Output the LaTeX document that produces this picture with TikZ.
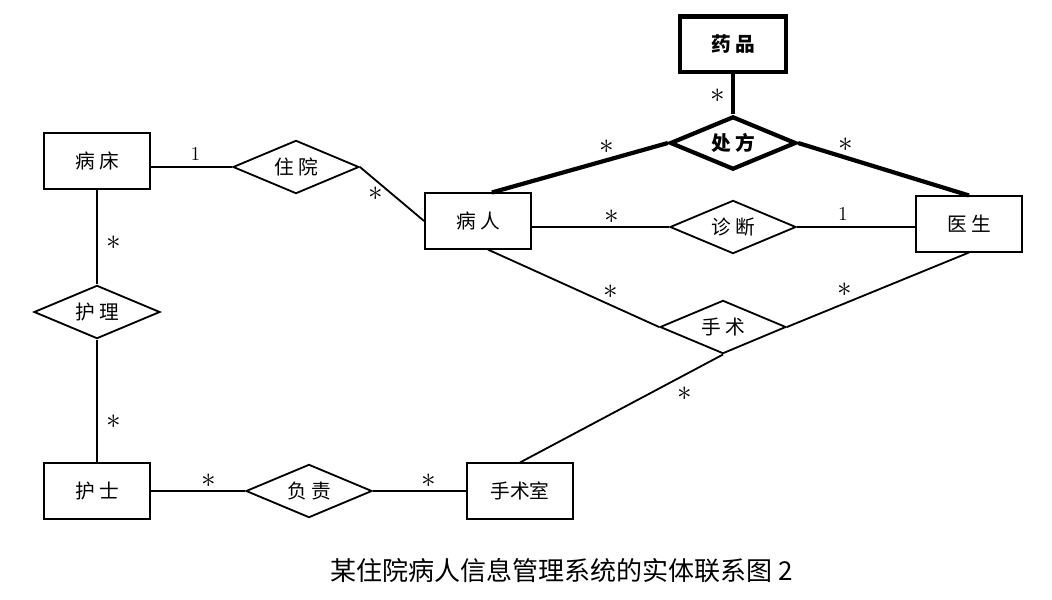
\documentclass[tikz,border=0pt]{standalone}
\usepackage{fontspec}
\newfontfamily\cjk{Noto Sans CJK SC}
\usetikzlibrary{positioning, shapes.geometric}

\begin{document}
\begin{tikzpicture}[
    x=0.025cm, y=-0.025cm,
    entity/.style={
        rectangle,
        draw=black,
        line width=1.3pt,
        minimum width=2.65cm,
        minimum height=1.38cm,
        inner sep=0pt,
        font=\cjk\fontsize{14}{16}\selectfont
    },
    relation/.style={
        diamond,
        aspect=2.4,
        draw=black,
        line width=1.3pt,
        minimum width=3.15cm,
        minimum height=1.33cm,
        inner sep=0pt,
        font=\cjk\fontsize{14}{16}\selectfont
    },
    thickbox/.style={line width=3pt, font=\cjk\bfseries\fontsize{14}{16}\selectfont},
    line/.style={line width=1.3pt},
    heavy/.style={line width=3pt},
    card/.style={font=\fontsize{14}{16}\selectfont, inner sep=2pt},
    many/.style={card, font=\fontsize{20}{22}\selectfont, inner sep=1pt}
]

\useasboundingbox (0, 0) rectangle (1052, 599);

\def\xl{97}

% Entities
\node[entity, thickbox] (yp) at (733, 44) {药 品};
\node[entity] (bc)  at (\xl, 161) {病 床};
\node[entity] (br)  at (478, 221) {病 人};
\node[entity] (ys)  at (969, 224) {医 生};
\node[entity] (hs)  at (\xl, 491) {护 士};
\node[entity] (ssj) at (520, 491) {手术室};

% Relationships
\node[relation, thickbox] (cf) at (733, 143) {处 方};
\node[relation] (zy) at (296, 167) {住 院};
\node[relation] (zd) at (733, 227) {诊 断};
\node[relation] (ss) at (723, 327) {手 术};
\node[relation] (hl) at (\xl, 312) {护 理};
\node[relation] (fz) at (309, 491) {负 责};

% Prescription (heavy lines)
\draw[heavy] (yp) -- node[many, left=3pt, pos=0.55] {$*$} (cf);
\draw[heavy] (br.64) -- node[many, above=2pt, pos=0.65] {$*$} (cf.west);
\draw[heavy] (cf.east) -- node[many, above=2pt, pos=0.28] {$*$} (ys.north);

% Other relationships
\draw[line] (bc.east |- zy.west) -- node[card, above=2pt, pos=0.55] {1} (zy.west);
\draw[line] (zy.east) -- node[many, below=3pt, pos=0.25] {$*$} (br.west);
\draw[line] (br.east |- zd.west) -- node[many, above=1pt, pos=0.58] {$*$} (zd.west);
\draw[line] (zd.east) -- node[card, above=2pt, pos=0.39] {1} (ys.west |- zd.east);
\draw[line] (br.289) -- node[many, above=3pt, pos=0.72] {$*$} (ss.west);
\draw[line] (ss.east) -- node[many, above=3pt, pos=0.32] {$*$} (ys.south);
\draw[line] (ss.south) -- node[many, below right=3pt, pos=0.25] {$*$} (ssj.north);
\draw[line] (bc) -- node[many, right=5pt, pos=0.56] {$*$} (hl);
\draw[line] (hl) -- node[many, right=5pt, pos=0.67] {$*$} (hs);
\draw[line] (hs) -- node[many, above=1pt, pos=0.61] {$*$} (fz);
\draw[line] (fz) -- node[many, above=1pt, pos=0.6] {$*$} (ssj);

% Caption
\node[font=\cjk\fontsize{18.5}{21}\selectfont] (cap) at (562, 571) {某住院病人信息管理系统的实体联系图 2};

\end{tikzpicture}
\end{document}
